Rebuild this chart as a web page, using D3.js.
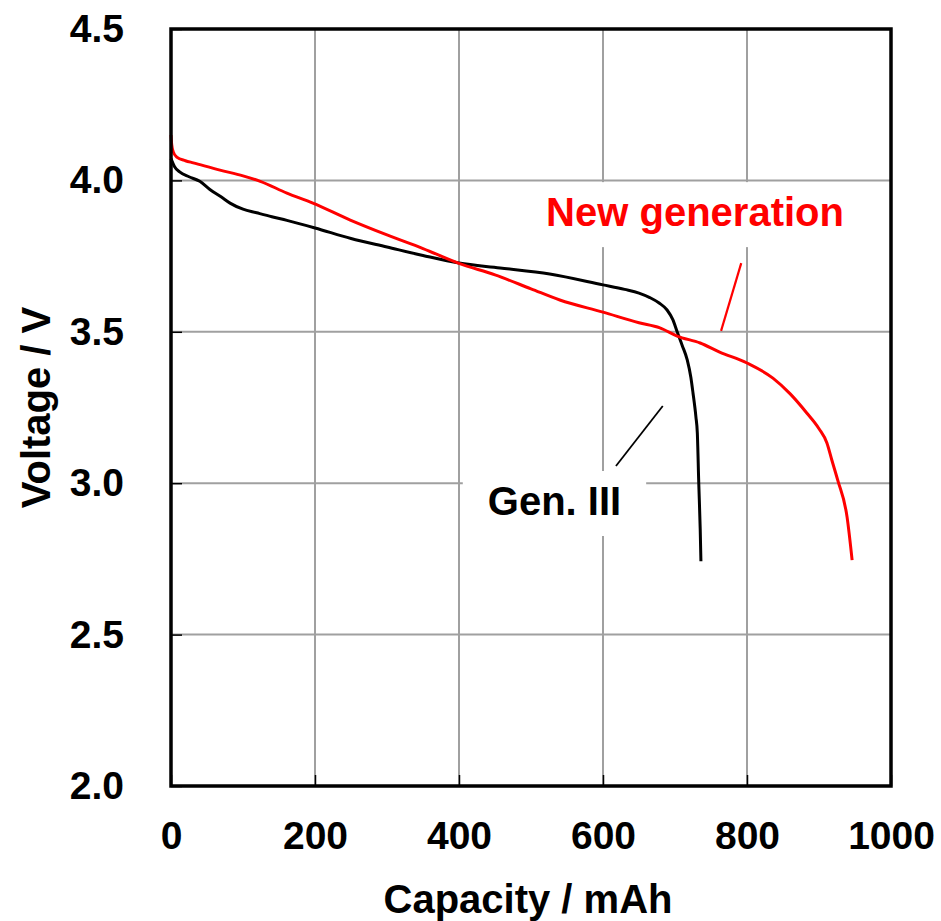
<!DOCTYPE html>
<html>
<head>
<meta charset="utf-8">
<script src="https://cdn.jsdelivr.net/npm/d3@7"></script>
<style>
  html, body { margin: 0; padding: 0; background: #fff; }
  svg text { font-family: "Liberation Sans", Arial, Helvetica, sans-serif; font-weight: bold; }
</style>
</head>
<body>
<svg id="chart" width="941" height="921"></svg>
<script>
// Discharge curves: capacity (mAh) vs voltage (V)
const genIIICapacity = [0, 5, 12, 25, 40, 54, 70, 82, 100, 119, 140, 161, 200, 250, 300, 350, 400, 457, 526, 600, 630, 650, 665, 678, 689, 697, 703, 710, 717, 722, 725, 729, 731, 733, 735, 736];
const genIIIVoltage  = [4.072, 4.045, 4.028, 4.012, 3.997, 3.970, 3.945, 3.925, 3.905, 3.893, 3.880, 3.868, 3.843, 3.808, 3.780, 3.752, 3.727, 3.711, 3.691, 3.655, 3.640, 3.628, 3.613, 3.595, 3.572, 3.540, 3.500, 3.455, 3.407, 3.350, 3.298, 3.220, 3.166, 3.000, 2.850, 2.742];

const newGenCapacity = [0, 1, 3, 8, 20, 31, 68, 100, 124, 161, 197, 249, 300, 350, 400, 450, 500, 540, 600, 650, 679, 703, 735, 762, 800, 836, 860, 883, 900, 911, 918, 926, 939, 946];
const newGenVoltage  = [4.150, 4.118, 4.095, 4.077, 4.065, 4.058, 4.034, 4.015, 3.997, 3.958, 3.925, 3.869, 3.820, 3.775, 3.726, 3.688, 3.642, 3.605, 3.565, 3.530, 3.513, 3.486, 3.463, 3.433, 3.397, 3.347, 3.295, 3.232, 3.180, 3.133, 3.075, 3.010, 2.888, 2.746];

const xTicks = [0, 200, 400, 600, 800, 1000];
const yTicks = [2.0, 2.5, 3.0, 3.5, 4.0, 4.5];

const xTitle = "Capacity / mAh";
const yTitle = "Voltage / V";

// Annotation labels with their leader lines (data units)
const labelNames  = ["New generation", "Gen. III"];
const labelColors = ["#ff0000", "#000000"];
const labelAnchor = [[521, 3.849], [440, 2.895]];
const leaderFrom  = [[792, 3.727], [683, 3.255]];
const leaderTo    = [[764, 3.503], [618, 3.057]];

const svg = d3.select("#chart");
const plot = { left: 171, right: 891, top: 29, bottom: 786 };

const x = d3.scaleLinear().domain([0, 1000]).range([plot.left, plot.right]);
const y = d3.scaleLinear().domain([2.0, 4.5]).range([plot.bottom, plot.top]);

// grid
const grid = svg.append("g").attr("stroke", "#a0a0a0").attr("stroke-width", 2);
grid.selectAll("line.v").data(xTicks).join("line").attr("class", "v")
  .attr("x1", d => x(d)).attr("x2", d => x(d))
  .attr("y1", plot.top).attr("y2", plot.bottom);
grid.selectAll("line.h").data(yTicks).join("line").attr("class", "h")
  .attr("x1", plot.left).attr("x2", plot.right)
  .attr("y1", d => y(d)).attr("y2", d => y(d));

// axes: inward ticks, bold labels
const fontSize = 39;
const yAxis = svg.append("g").attr("transform", `translate(${plot.left},0)`)
  .call(d3.axisLeft(y).tickValues(yTicks).tickFormat(d3.format(".1f")).tickSizeInner(-11).tickSizeOuter(0).tickPadding(47));
const xAxis = svg.append("g").attr("transform", `translate(0,${plot.bottom})`)
  .call(d3.axisBottom(x).tickValues(xTicks).tickFormat(d3.format("d")).tickSizeInner(-11).tickSizeOuter(0).tickPadding(35));
[xAxis, yAxis].forEach(a => {
  a.select(".domain").remove();
  a.selectAll(".tick line").attr("stroke", "#000").attr("stroke-width", 1.5);
  a.selectAll(".tick text").attr("fill", "#000").style("font-size", fontSize + "px")
    .style("font-family", "'Liberation Sans', Arial, sans-serif").style("font-weight", "bold");
});
xAxis.selectAll(".tick text").attr("dy", "0.71em");

// annotation labels on white boxes
const labels = svg.append("g");
labelNames.forEach((name, i) => {
  const g = labels.append("g");
  const box = g.append("rect").attr("fill", "#fff");
  const t = g.append("text")
    .attr("x", x(labelAnchor[i][0])).attr("y", y(labelAnchor[i][1]))
    .attr("fill", labelColors[i]).style("font-size", "40px").text(name);
  const bb = t.node().getBBox();
  box.attr("x", bb.x - 25).attr("y", bb.y - 8).attr("width", bb.width + 50).attr("height", bb.height + 21);
});

// curves
const line = d3.line().x(d => x(d[0])).y(d => y(d[1])).curve(d3.curveMonotoneX);
svg.append("path").datum(d3.zip(genIIICapacity, genIIIVoltage))
  .attr("d", line).attr("fill", "none").attr("stroke", "#000").attr("stroke-width", 3).attr("stroke-linejoin", "round");
svg.append("path").datum(d3.zip(newGenCapacity, newGenVoltage))
  .attr("d", line).attr("fill", "none").attr("stroke", "#ff0000").attr("stroke-width", 3).attr("stroke-linejoin", "round");

// leader lines
labelNames.forEach((name, i) => {
  svg.append("line")
    .attr("x1", x(leaderFrom[i][0])).attr("y1", y(leaderFrom[i][1]))
    .attr("x2", x(leaderTo[i][0])).attr("y2", y(leaderTo[i][1]))
    .attr("stroke", labelColors[i]).attr("stroke-width", i === 0 ? 2.2 : 1.8);
});

// plot frame
svg.append("rect").attr("x", plot.left).attr("y", plot.top)
  .attr("width", plot.right - plot.left).attr("height", plot.bottom - plot.top)
  .attr("fill", "none").attr("stroke", "#000").attr("stroke-width", 3.5);

// axis titles
svg.append("text").attr("x", (plot.left + plot.right) / 2 - 3).attr("y", 913)
  .attr("text-anchor", "middle").attr("fill", "#000").style("font-size", "40px").text(xTitle);
svg.append("text").attr("transform", `translate(50,${(plot.top + plot.bottom) / 2}) rotate(-90)`)
  .attr("text-anchor", "middle").attr("fill", "#000").style("font-size", "40px").text(yTitle);
</script>
</body>
</html>
